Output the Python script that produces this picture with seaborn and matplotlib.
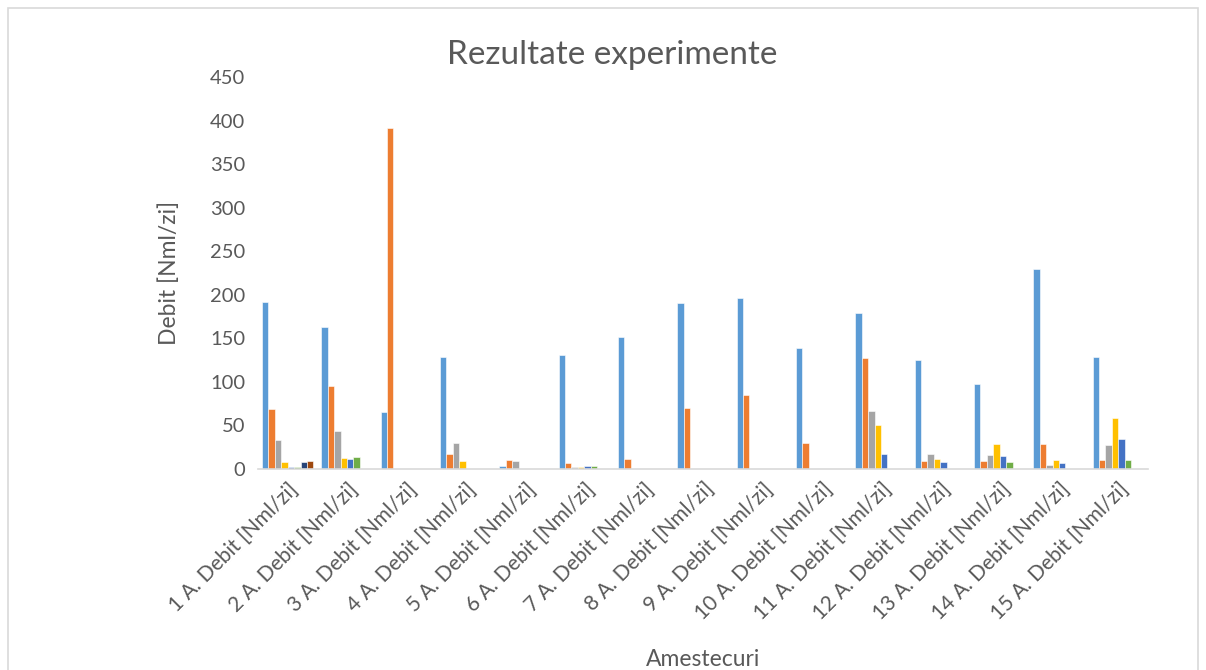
import numpy as np
import pandas as pd
import matplotlib
matplotlib.use("Agg")
import matplotlib.pyplot as plt
from matplotlib.patches import Rectangle
import seaborn as sns

# Mixture labels (x categories)
categories = [f"{i} A. Debit [Nml/zi]" for i in range(1, 16)]

# Measured flow per series, one value per mixture (0 = no measurement)
serie1 = [192, 163, 65, 128, 4, 131, 152, 191, 196, 139, 179, 125, 98, 230, 129]
serie2 = [69, 95, 392, 17, 10.5, 7, 12, 70, 85, 30, 127, 9, 9.5, 28.5, 10.5]
serie3 = [33, 44, 0, 29.5, 9.5, 2, 0, 0, 0, 0, 67, 17, 16.5, 4.5, 27]
serie4 = [8, 13, 0, 9, 0, 2, 0, 0, 0, 0, 50, 11, 28.5, 10.5, 59]
serie5 = [2.5, 11.5, 0, 0, 0, 3, 0, 0, 0, 0, 17.5, 8.5, 15, 6.5, 34]
serie6 = [2.5, 14, 0, 0, 0, 3, 0, 0, 0, 0, 0, 0, 8.5, 0, 10]
serie7 = [8.5, 0, 0, 0, 0, 0, 0, 0, 0, 0, 0, 0, 0, 0, 0]
serie8 = [9.5, 0, 0, 0, 0, 0, 0, 0, 0, 0, 0, 0, 0, 0, 0]

series_names = ["Seria 1", "Seria 2", "Seria 3", "Seria 4",
                "Seria 5", "Seria 6", "Seria 7", "Seria 8"]
series_values = [serie1, serie2, serie3, serie4, serie5, serie6, serie7, serie8]
palette = ["#5B9BD5", "#ED7D31", "#A5A5A5", "#FFC000",
           "#4472C4", "#70AD47", "#264478", "#9E480E"]

yticks = list(range(0, 451, 50))

df = pd.DataFrame(
    [(cat, name, val)
     for name, vals in zip(series_names, series_values)
     for cat, val in zip(categories, vals)],
    columns=["Amestec", "Serie", "Debit"],
)

sns.set_theme(style="white")
plt.rcParams["font.family"] = ["Lato", "DejaVu Sans"]
text_color = "#595959"

W, H = 1206, 670
fig = plt.figure(figsize=(W / 100, H / 100), dpi=100)
fig.patch.set_facecolor("white")

# Chart-area border
fig.patches.append(Rectangle((8 / W, -0.05), (1198 - 8) / W, 1.05 - 8 / H,
                             transform=fig.transFigure, fill=False,
                             edgecolor="#D9D9D9", linewidth=1.2))

ax = fig.add_axes([258 / W, 201 / H, 890 / W, 392 / H])
sns.barplot(data=df, x="Amestec", y="Debit", hue="Serie",
            order=categories, hue_order=series_names, palette=palette,
            width=0.87, errorbar=None, saturation=1, legend=False,
            edgecolor="white", linewidth=0.4, ax=ax)

ax.set_ylim(0, 450)
ax.set_xlim(-0.5, len(categories) - 0.5)
ax.set_yticks(yticks)
ax.set_yticklabels([str(t) for t in yticks], fontsize=14.5, color=text_color)
ax.tick_params(axis="both", length=0)
ax.tick_params(axis="y", pad=9)
ax.tick_params(axis="x", pad=7)
for lbl in ax.get_xticklabels():
    lbl.set_rotation(45)
    lbl.set_ha("right")
    lbl.set_rotation_mode("anchor")
    lbl.set_fontsize(15)
    lbl.set_color(text_color)

for side in ["left", "right", "top"]:
    ax.spines[side].set_visible(False)
ax.spines["bottom"].set_color("#D9D9D9")
ax.spines["bottom"].set_linewidth(1.2)
ax.grid(False)

ax.set_ylabel("Debit [Nml/zi]", fontsize=16.5, color=text_color)
ax.yaxis.set_label_coords(-0.0876, 0.5)
ax.set_xlabel("Amestecuri", fontsize=16.5, color=text_color)
ax.xaxis.set_label_coords(0.5, -0.487)
ax.xaxis.label.set_va("center")

fig.text(612 / W, 1 - 55 / H, "Rezultate experimente", ha="center",
         va="center", fontsize=24, color=text_color)

fig.savefig("out.png", dpi=100, facecolor="white")
